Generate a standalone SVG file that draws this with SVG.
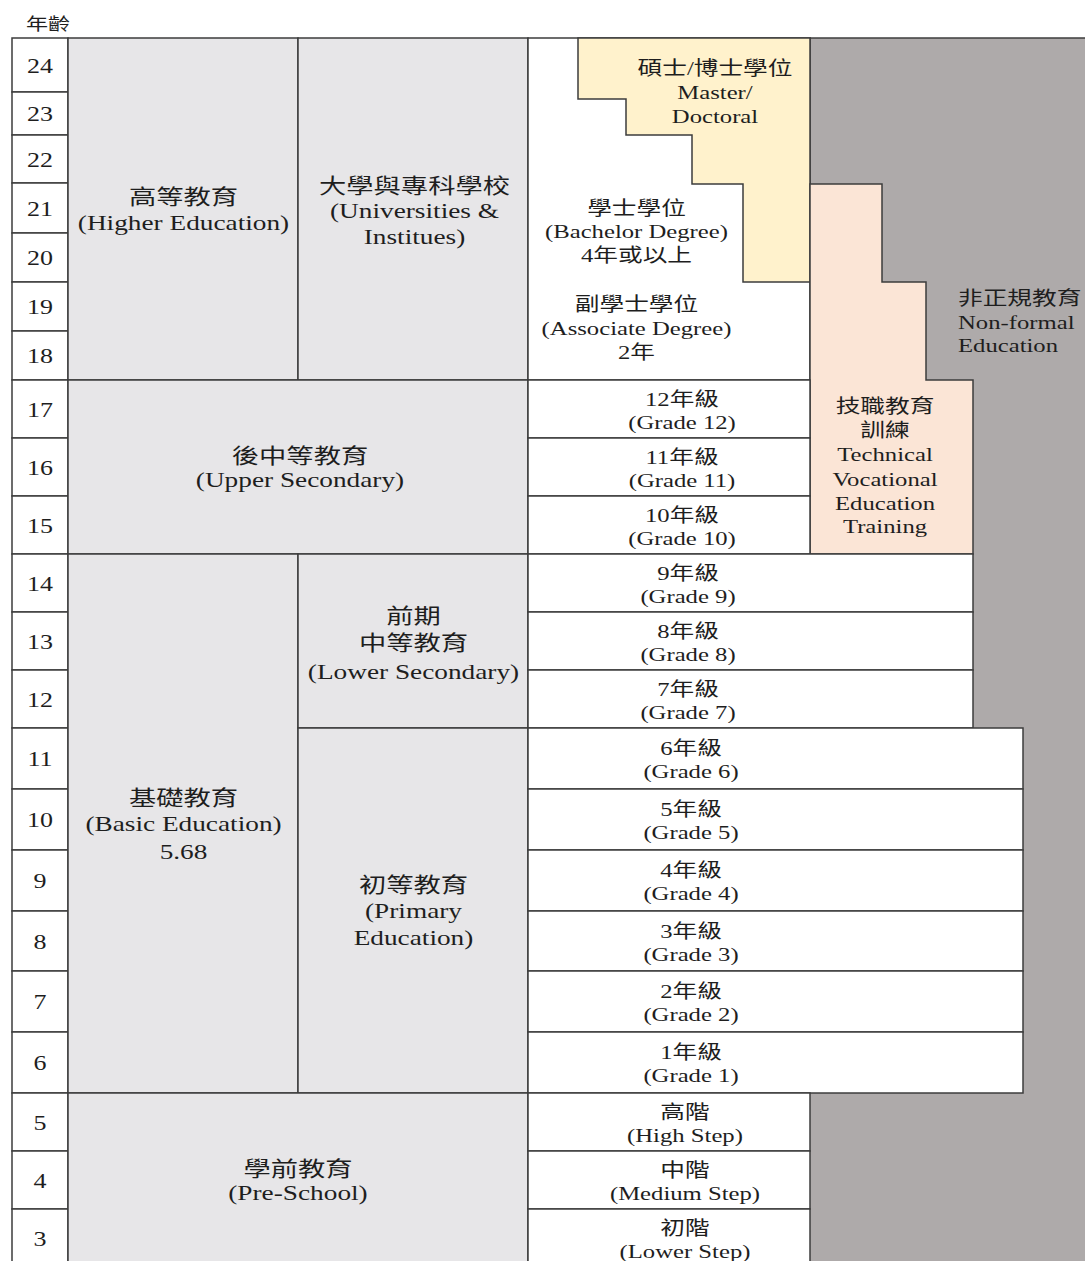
<svg xmlns="http://www.w3.org/2000/svg" width="1085" height="1261" viewBox="0 0 1085 1261">
<style>
.c{stroke:#3c3c3c;stroke-width:1.5}
.w{fill:#fff}
.g{fill:#e7e6e8}
.t{font-family:"Liberation Serif","Noto Sans CJK TC",serif;fill:#1e1e1e;text-anchor:middle}
.s{font-size:21px}
.m{font-size:19px}
.a{font-size:20px}
</style>
<rect width="1085" height="1261" fill="#fff"/>
<g id="nonformal">
<rect x="810" y="38" width="275" height="1230" fill="#aeaaaa"/>
<line x1="810" y1="38" x2="1085" y2="38" class="c"/>
<text class="t m" style="text-anchor:start" transform="translate(958 0) scale(1.3 1)"><tspan x="0" y="305">非正規教育</tspan><tspan x="0" y="329">Non-formal</tspan><tspan x="0" y="352">Education</tspan></text>
</g>
<g id="age-label"><text class="t" style="font-size:17px" transform="translate(48 0) scale(1.3 1)" x="0" y="30">年齡</text></g>
<g id="ages">
<rect x="12" y="38" width="56" height="54" class="w c"/><text class="t a" transform="translate(40 0) scale(1.3 1)" x="0" y="73">24</text>
<rect x="12" y="92" width="56" height="43" class="w c"/><text class="t a" transform="translate(40 0) scale(1.3 1)" x="0" y="121.5">23</text>
<rect x="12" y="135" width="56" height="48" class="w c"/><text class="t a" transform="translate(40 0) scale(1.3 1)" x="0" y="167">22</text>
<rect x="12" y="183" width="56" height="50" class="w c"/><text class="t a" transform="translate(40 0) scale(1.3 1)" x="0" y="216">21</text>
<rect x="12" y="233" width="56" height="49" class="w c"/><text class="t a" transform="translate(40 0) scale(1.3 1)" x="0" y="265.5">20</text>
<rect x="12" y="282" width="56" height="49" class="w c"/><text class="t a" transform="translate(40 0) scale(1.3 1)" x="0" y="314.5">19</text>
<rect x="12" y="331" width="56" height="49" class="w c"/><text class="t a" transform="translate(40 0) scale(1.3 1)" x="0" y="363.5">18</text>
<rect x="12" y="380" width="56" height="58" class="w c"/><text class="t a" transform="translate(40 0) scale(1.3 1)" x="0" y="417">17</text>
<rect x="12" y="438" width="56" height="58" class="w c"/><text class="t a" transform="translate(40 0) scale(1.3 1)" x="0" y="475">16</text>
<rect x="12" y="496" width="56" height="58" class="w c"/><text class="t a" transform="translate(40 0) scale(1.3 1)" x="0" y="533">15</text>
<rect x="12" y="554" width="56" height="58" class="w c"/><text class="t a" transform="translate(40 0) scale(1.3 1)" x="0" y="591">14</text>
<rect x="12" y="612" width="56" height="58" class="w c"/><text class="t a" transform="translate(40 0) scale(1.3 1)" x="0" y="649">13</text>
<rect x="12" y="670" width="56" height="58" class="w c"/><text class="t a" transform="translate(40 0) scale(1.3 1)" x="0" y="707">12</text>
<rect x="12" y="728" width="56" height="61" class="w c"/><text class="t a" transform="translate(40 0) scale(1.3 1)" x="0" y="766.5">11</text>
<rect x="12" y="789" width="56" height="61" class="w c"/><text class="t a" transform="translate(40 0) scale(1.3 1)" x="0" y="827.5">10</text>
<rect x="12" y="850" width="56" height="61" class="w c"/><text class="t a" transform="translate(40 0) scale(1.3 1)" x="0" y="888.5">9</text>
<rect x="12" y="911" width="56" height="60" class="w c"/><text class="t a" transform="translate(40 0) scale(1.3 1)" x="0" y="949">8</text>
<rect x="12" y="971" width="56" height="61" class="w c"/><text class="t a" transform="translate(40 0) scale(1.3 1)" x="0" y="1009.5">7</text>
<rect x="12" y="1032" width="56" height="61" class="w c"/><text class="t a" transform="translate(40 0) scale(1.3 1)" x="0" y="1070.5">6</text>
<rect x="12" y="1093" width="56" height="58" class="w c"/><text class="t a" transform="translate(40 0) scale(1.3 1)" x="0" y="1130">5</text>
<rect x="12" y="1151" width="56" height="58" class="w c"/><text class="t a" transform="translate(40 0) scale(1.3 1)" x="0" y="1188">4</text>
<rect x="12" y="1209" width="56" height="59" class="w c"/><text class="t a" transform="translate(40 0) scale(1.3 1)" x="0" y="1246.5">3</text>
</g>
<g id="higher-education">
<rect x="68" y="38" width="230" height="342" class="g c"/>
<text class="t s" transform="translate(183.5 0) scale(1.3 1)"><tspan x="0" y="204">高等教育</tspan><tspan x="0" y="230">(Higher Education)</tspan></text>
</g>
<g id="universities">
<rect x="298" y="38" width="230" height="342" class="g c"/>
<text class="t s" transform="translate(414.5 0) scale(1.3 1)"><tspan x="0" y="193">大學與專科學校</tspan><tspan x="0" y="218">(Universities &amp;</tspan><tspan x="0" y="244">Institues)</tspan></text>
</g>
<g id="degrees">
<rect x="528" y="38" width="282" height="342" class="w c"/>
</g>
<g id="master-doctoral">
<polygon points="578,38 810,38 810,282 743,282 743,184 692,184 692,135 626,135 626,99 578,99" fill="#fff2cc" class="c"/>
<text class="t m" transform="translate(715 0) scale(1.3 1)"><tspan x="0" y="75">碩士/博士學位</tspan><tspan x="0" y="99">Master/</tspan><tspan x="0" y="123">Doctoral</tspan></text>
</g>
<g id="bachelor">
<text class="t m" transform="translate(636.5 0) scale(1.3 1)"><tspan x="0" y="215">學士學位</tspan><tspan x="0" y="238">(Bachelor Degree)</tspan><tspan x="0" y="262">4年或以上</tspan></text>
</g>
<g id="associate">
<text class="t m" transform="translate(636.5 0) scale(1.3 1)"><tspan x="0" y="311">副學士學位</tspan><tspan x="0" y="335">(Associate Degree)</tspan><tspan x="0" y="359">2年</tspan></text>
</g>
<g id="vocational">
<polygon points="810,184 882,184 882,282 926,282 926,380 973,380 973,554 810,554" fill="#fbe5d6" class="c"/>
<text class="t m" transform="translate(885 0) scale(1.3 1)"><tspan x="0" y="413">技職教育</tspan><tspan x="0" y="437">訓練</tspan><tspan x="0" y="461">Technical</tspan><tspan x="0" y="486">Vocational</tspan><tspan x="0" y="510">Education</tspan><tspan x="0" y="533">Training</tspan></text>
</g>
<g id="upper-secondary">
<rect x="68" y="380" width="460" height="174" class="g c"/>
<text class="t s" transform="translate(300 0) scale(1.3 1)"><tspan x="0" y="463">後中等教育</tspan><tspan x="0" y="487">(Upper Secondary)</tspan></text>
</g>
<g id="grade-12"><rect x="528" y="380" width="282" height="58" class="w c"/><text class="t m" transform="translate(682 0) scale(1.3 1)"><tspan x="0" y="406">12年級</tspan><tspan x="0" y="429">(Grade 12)</tspan></text></g>
<g id="grade-11"><rect x="528" y="438" width="282" height="58" class="w c"/><text class="t m" transform="translate(682 0) scale(1.3 1)"><tspan x="0" y="464">11年級</tspan><tspan x="0" y="487">(Grade 11)</tspan></text></g>
<g id="grade-10"><rect x="528" y="496" width="282" height="58" class="w c"/><text class="t m" transform="translate(682 0) scale(1.3 1)"><tspan x="0" y="522">10年級</tspan><tspan x="0" y="545">(Grade 10)</tspan></text></g>
<g id="basic-education">
<rect x="68" y="554" width="230" height="539" class="g c"/>
<text class="t s" transform="translate(183.5 0) scale(1.3 1)"><tspan x="0" y="805">基礎教育</tspan><tspan x="0" y="831">(Basic Education)</tspan><tspan x="0" y="859">5.68</tspan></text>
</g>
<g id="lower-secondary">
<rect x="298" y="554" width="230" height="174" class="g c"/>
<text class="t s" transform="translate(413.5 0) scale(1.3 1)"><tspan x="0" y="623">前期</tspan><tspan x="0" y="650">中等教育</tspan><tspan x="0" y="679">(Lower Secondary)</tspan></text>
</g>
<g id="grade-9"><rect x="528" y="554" width="445" height="58" class="w c"/><text class="t m" transform="translate(688 0) scale(1.3 1)"><tspan x="0" y="580">9年級</tspan><tspan x="0" y="603">(Grade 9)</tspan></text></g>
<g id="grade-8"><rect x="528" y="612" width="445" height="58" class="w c"/><text class="t m" transform="translate(688 0) scale(1.3 1)"><tspan x="0" y="638">8年級</tspan><tspan x="0" y="661">(Grade 8)</tspan></text></g>
<g id="grade-7"><rect x="528" y="670" width="445" height="58" class="w c"/><text class="t m" transform="translate(688 0) scale(1.3 1)"><tspan x="0" y="696">7年級</tspan><tspan x="0" y="719">(Grade 7)</tspan></text></g>
<g id="primary-education">
<rect x="298" y="728" width="230" height="365" class="g c"/>
<text class="t s" transform="translate(413.5 0) scale(1.3 1)"><tspan x="0" y="892">初等教育</tspan><tspan x="0" y="918">(Primary</tspan><tspan x="0" y="945">Education)</tspan></text>
</g>
<g id="grade-6"><rect x="528" y="728" width="495" height="61" class="w c"/><text class="t m" transform="translate(691 0) scale(1.3 1)"><tspan x="0" y="755.5">6年級</tspan><tspan x="0" y="778.5">(Grade 6)</tspan></text></g>
<g id="grade-5"><rect x="528" y="789" width="495" height="61" class="w c"/><text class="t m" transform="translate(691 0) scale(1.3 1)"><tspan x="0" y="816.5">5年級</tspan><tspan x="0" y="839.5">(Grade 5)</tspan></text></g>
<g id="grade-4"><rect x="528" y="850" width="495" height="61" class="w c"/><text class="t m" transform="translate(691 0) scale(1.3 1)"><tspan x="0" y="877.5">4年級</tspan><tspan x="0" y="900.5">(Grade 4)</tspan></text></g>
<g id="grade-3"><rect x="528" y="911" width="495" height="60" class="w c"/><text class="t m" transform="translate(691 0) scale(1.3 1)"><tspan x="0" y="938">3年級</tspan><tspan x="0" y="961">(Grade 3)</tspan></text></g>
<g id="grade-2"><rect x="528" y="971" width="495" height="61" class="w c"/><text class="t m" transform="translate(691 0) scale(1.3 1)"><tspan x="0" y="998.5">2年級</tspan><tspan x="0" y="1021.5">(Grade 2)</tspan></text></g>
<g id="grade-1"><rect x="528" y="1032" width="495" height="61" class="w c"/><text class="t m" transform="translate(691 0) scale(1.3 1)"><tspan x="0" y="1059.5">1年級</tspan><tspan x="0" y="1082.5">(Grade 1)</tspan></text></g>
<g id="pre-school">
<rect x="68" y="1093" width="460" height="175" class="g c"/>
<text class="t s" transform="translate(298 0) scale(1.3 1)"><tspan x="0" y="1176">學前教育</tspan><tspan x="0" y="1200">(Pre-School)</tspan></text>
</g>
<g id="high-step"><rect x="528" y="1093" width="282" height="58" class="w c"/><text class="t m" transform="translate(685 0) scale(1.3 1)"><tspan x="0" y="1119">高階</tspan><tspan x="0" y="1142">(High Step)</tspan></text></g>
<g id="medium-step"><rect x="528" y="1151" width="282" height="58" class="w c"/><text class="t m" transform="translate(685 0) scale(1.3 1)"><tspan x="0" y="1177">中階</tspan><tspan x="0" y="1200">(Medium Step)</tspan></text></g>
<g id="lower-step"><rect x="528" y="1209" width="282" height="59" class="w c"/><text class="t m" transform="translate(685 0) scale(1.3 1)"><tspan x="0" y="1235.5">初階</tspan><tspan x="0" y="1258.5">(Lower Step)</tspan></text></g>
</svg>
